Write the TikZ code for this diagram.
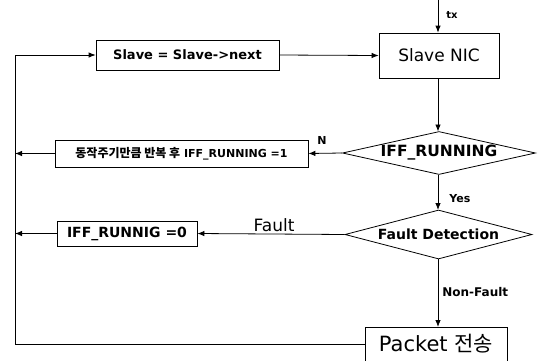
\documentclass[tikz,border=0pt]{standalone}
\usepackage{fontspec}
\setmainfont{DejaVu Sans}
\newfontfamily\kr{Noto Sans CJK KR}
\newfontfamily\krb{Noto Sans CJK KR Bold}
\usetikzlibrary{shapes.geometric,arrows.meta}
\begin{document}
\begin{tikzpicture}[x=1pt,y=-1pt,
  line width=0.8pt,
  arr/.style={-{Latex[length=7pt,width=5.5pt]}},
  procbox/.style={draw,rectangle,inner sep=0pt,anchor=center},
  decision/.style={draw,diamond,inner sep=0pt,aspect=4.5},
  lbl/.style={inner sep=0pt,font=\bfseries}]
\useasboundingbox (0,0) rectangle (542,360);
\clip (0,0) rectangle (542,360);
% nodes
\node[procbox,minimum width=120pt,minimum height=45pt,font=\fontsize{17}{20}\selectfont] (nic) at (439,55.5) {Slave NIC};
\node[procbox,minimum width=183pt,minimum height=30pt,font=\bfseries\fontsize{13}{15}\selectfont] (slv) at (187.5,55) {Slave = Slave->next};
\node[decision,minimum width=193pt,minimum height=43pt,font=\bfseries\fontsize{15.5}{18}\selectfont] (iff) at (439,153) {\makebox[0pt]{IFF\_RUNNING}};
\node[procbox,minimum width=253pt,minimum height=27pt,font=\bfseries\fontsize{11}{13}\selectfont] (loop) at (181.5,153.5) {{\krb\fontsize{12}{14}\selectfont 동작주기만큼 반복 후} IFF\_RUNNING =1};
\node[decision,minimum width=187pt,minimum height=49pt,font=\bfseries\fontsize{14}{16}\selectfont] (fault) at (438.5,234.5) {\makebox[0pt]{Fault Detection}};
\node[procbox,minimum width=140pt,minimum height=25pt,font=\bfseries\fontsize{14}{16}\selectfont] (iffz) at (127,233.5) {IFF\_RUNNIG =0};
\node[procbox,minimum width=142pt,minimum height=34pt,font=\fontsize{21}{24}\selectfont] (pkt) at (436,344) {Packet {\kr 전송}};
% free ends
\coordinate (txtop) at (438,0);
\coordinate (lt) at (15,55);
\coordinate (lb) at (15,344);
\coordinate (lm1) at (15,153.5);
\coordinate (lm2) at (15,233.5);
% connectors
\draw[arr] (txtop) -- (txtop |- nic.north);
\node[lbl,font=\bfseries\fontsize{10}{12}\selectfont,anchor=west] (txl) at (446,15) {tx};
\draw[arr] (slv.east) -- (nic.west);
\draw[arr] (438,78) -- (438,131.5);
\draw[arr] (iff.west) -- (loop.east);
\node[lbl,font=\bfseries\fontsize{11}{13}\selectfont] (nl) at (322,140) {N};
\draw[arr] (loop.west) -- (lm1);
\draw[arr] (438,174.5) -- (438,210);
\node[lbl,font=\bfseries\fontsize{11}{13}\selectfont,anchor=west] (yl) at (449,199) {Yes};
\draw[arr] (fault.west) -- (iffz.east);
\node[lbl,font=\fontsize{17}{20}\selectfont] (fl) at (274,225) {Fault};
\draw[arr] (iffz.west) -- (lm2);
\draw[arr] (438,259) -- (438,327);
\node[lbl,font=\bfseries\fontsize{12}{14}\selectfont,anchor=west] (nfl) at (442,292) {Non-Fault};
\draw[arr] (pkt.west) -- (lb) -- (lt) -- (slv.west);
\end{tikzpicture}
\end{document}
